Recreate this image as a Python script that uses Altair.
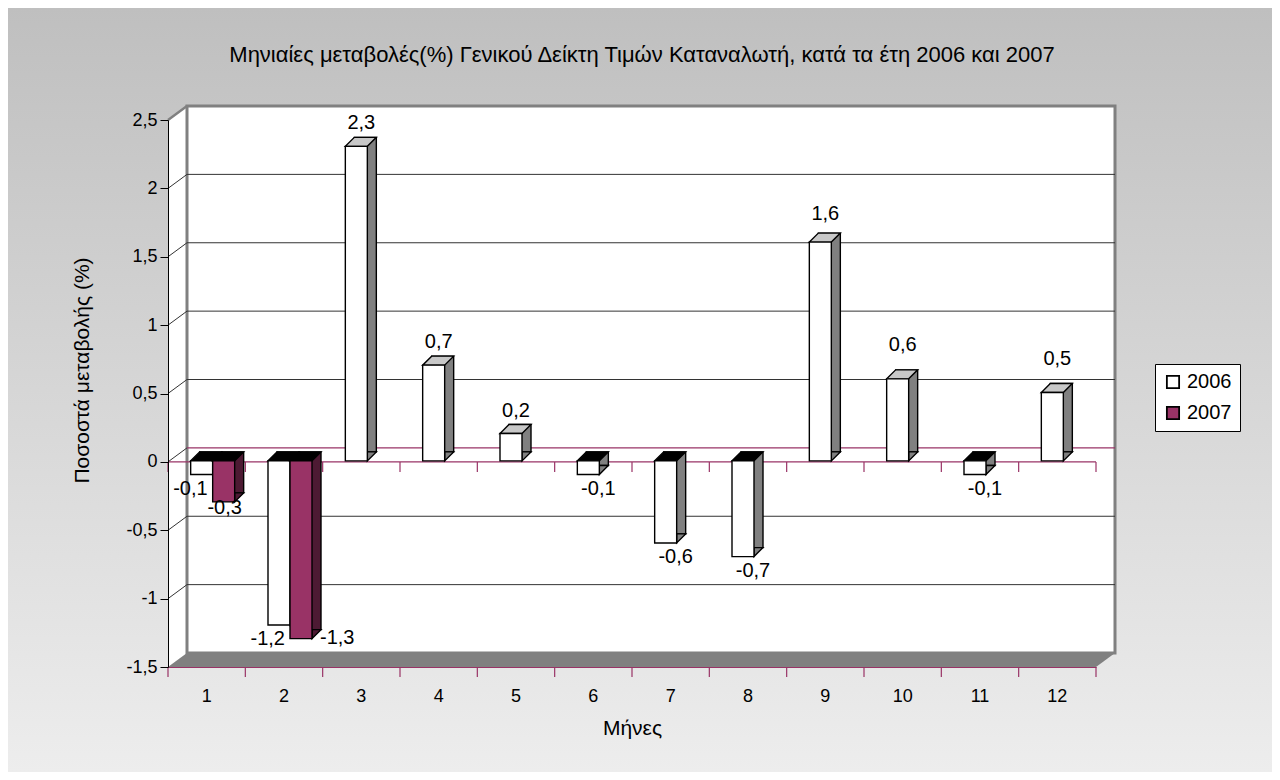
import altair as alt
import pandas as pd

# ---------------- data ----------------
months = list(range(1, 13))
values_2006 = [-0.1, -1.2, 2.3, 0.7, 0.2, -0.1, -0.6, -0.7, 1.6, 0.6, -0.1, 0.5]
months_2007 = [1, 2]
values_2007 = [-0.3, -1.3]
years = ["2006", "2007"]
y_ticks = [-1.5, -1, -0.5, 0, 0.5, 1, 1.5, 2, 2.5]
grid_vals = [-1, -0.5, 0.5, 1, 1.5, 2]
connector_vals = [-1, -0.5, 0, 0.5, 1, 1.5, 2]

title_text = "Μηνιαίες μεταβολές(%) Γενικού Δείκτη Τιμών Καταναλωτή, κατά τα έτη 2006 και 2007"
y_title = "Ποσοστά μεταβολής (%)"
x_title = "Μήνες"

df06 = pd.DataFrame({"month": months, "value": values_2006, "year": years[0]})
df07 = pd.DataFrame({"month": months_2007, "value": values_2007, "year": years[1]})
df_month = pd.DataFrame({"month": months})
one = pd.DataFrame({"a": [0]})

# ---------------- layout ----------------
W, H = 928, 547
DX, DY = 19, -14          # depth of the 3-D box
BW, BD = 22, 9            # bar width and bar depth
HALF = W / 12 / 2
PURPLE = "#993366"
FONT = "Liberation Sans"

xscale = alt.Scale(domain=months, paddingInner=0, paddingOuter=0)
yscale = alt.Scale(domain=[-1.5, 2.5], nice=False, zero=False)

x_axis = alt.Axis(ticks=False, domainColor=PURPLE, domainWidth=1.2, labelAngle=0,
                  labelFontSize=18, labelPadding=20, labelColor="black",
                  titleFontSize=21, titleFontWeight="normal", titlePadding=12,
                  titleColor="black", grid=False, zindex=2)
y_axis = alt.Axis(values=y_ticks, labelExpr="replace(datum.value + '', '.', ',')",
                  grid=False, domainColor="black", tickColor="black", tickSize=8,
                  labelPadding=3, labelFontSize=18, labelColor="black",
                  titleFontSize=21, titleFontWeight="normal", titleColor="black",
                  titleAngle=270, titleX=-86, titleY=250, titleAlign="center",
                  titleBaseline="middle", zindex=2)

def X():
    return alt.X("month:O", scale=xscale, axis=x_axis, title=x_title)

def Y(field="value:Q"):
    return alt.Y(field, scale=yscale, axis=y_axis, title=y_title)

# ---------------- background & box ----------------
gradient = alt.LinearGradient(gradient="linear",
                              stops=[alt.GradientStop(color="#bfbfbf", offset=0),
                                     alt.GradientStop(color="#ededed", offset=1)],
                              x1=0, x2=0, y1=0, y2=1)
bg = alt.Chart(one).mark_rect(fill=gradient).encode(
    x=alt.value(-160), x2=alt.value(W + 176), y=alt.value(-112), y2=alt.value(H + 105))

side_wall = alt.Chart(one).mark_point(
    shape=f"M0 0 L{DX} {DY} L{DX} {H + DY} L0 {H} Z", size=4, filled=True,
    fill="white", strokeWidth=0, opacity=1).encode(x=alt.value(0), y=alt.value(0))

back_wall = alt.Chart(one).mark_rect(fill="white", stroke="#808080", strokeWidth=3).encode(
    x=alt.value(DX), x2=alt.value(W + DX), y=alt.value(DY), y2=alt.value(H + DY))

floor = alt.Chart(one).mark_point(
    shape=f"M0 {H} L{DX} {H + DY} L{W + DX} {H + DY} L{W} {H} Z", size=4, filled=True,
    fill="#808080", strokeWidth=0, opacity=1).encode(x=alt.value(0), y=alt.value(0))

grid = alt.Chart(pd.DataFrame({"g": grid_vals})).mark_rule(
    color="#333333", strokeWidth=1, yOffset=DY).encode(
    y=Y("g:Q"), x=alt.value(DX), x2=alt.value(W + DX))

connectors = alt.Chart(pd.DataFrame({"g": connector_vals})).mark_point(
    shape=f"M0 0 L{DX} {DY}", size=4, filled=False, stroke="#333333", strokeWidth=1,
    opacity=1).encode(x=alt.value(0), y=Y("g:Q"))

top_connector = alt.Chart(pd.DataFrame({"g": [2.5]})).mark_point(
    shape=f"M0 0 L{DX} {DY}", size=4, filled=False, stroke="#808080", strokeWidth=2.5,
    opacity=1).encode(x=alt.value(0), y=Y("g:Q"))

zero_back = alt.Chart(pd.DataFrame({"g": [0]})).mark_rule(
    color=PURPLE, strokeWidth=1.3, yOffset=DY).encode(
    y=Y("g:Q"), x=alt.value(DX), x2=alt.value(W + DX))
zero_front = alt.Chart(pd.DataFrame({"g": [0]})).mark_rule(
    color=PURPLE, strokeWidth=1.3).encode(
    y=Y("g:Q"), x=alt.value(0), x2=alt.value(W))

def tick_layer(level, dx, flt="true"):
    return alt.Chart(df_month.assign(g=level)).transform_filter(flt).mark_point(
        shape="M0 0 L0 10", size=4, filled=False, stroke=PURPLE, strokeWidth=1.2,
        opacity=1, xOffset=dx).encode(x=X(), y=Y("g:Q"))

ticks = [
    tick_layer(0, -HALF), tick_layer(0, HALF, "datum.month == 12"),
    tick_layer(-1.5, -HALF), tick_layer(-1.5, HALF, "datum.month == 12"),
]

# ---------------- 3-D bars ----------------
color = alt.Color("year:N", scale=alt.Scale(domain=years, range=["white", PURPLE]),
                  legend=alt.Legend(orient="none", legendX=987, legendY=244, title=None,
                                    fillColor="white", strokeColor="black", padding=8,
                                    symbolType="square", symbolSize=150,
                                    symbolStrokeColor="black", symbolStrokeWidth=1.8,
                                    labelFontSize=20, labelColor="black", labelOffset=4,
                                    rowPadding=11))

TOP_SHAPE = f"M0 0 L{BW} 0 L{BW + BD} {-BD} L{BD} {-BD} Z"

def bar_layers(d, cx, side):
    base = alt.Chart(d)
    back = base.mark_bar(width=BW, xOffset=cx + BD, yOffset=-BD - 1, y2Offset=-BD - 1,
                         fill=side, stroke="black", strokeWidth=1.4).encode(
        x=X(), y=Y(), y2=alt.datum(0))
    bottom = base.transform_calculate(bot="min(datum.value, 0)").mark_point(
        shape=f"M0 0 L0 {-BD} L{BD} {-BD} Z", size=4, filled=True, fill=side,
        stroke="black", strokeWidth=1.4, opacity=1, xOffset=cx + BW / 2, yOffset=-1).encode(
        x=X(), y=Y("bot:Q"))
    top_pos = base.transform_filter("datum.value > 0").mark_point(
        shape=TOP_SHAPE, size=4, filled=True, fill="#c8c8c8",
        stroke="black", strokeWidth=1.4, opacity=1, xOffset=cx - BW / 2, yOffset=-1).encode(
        x=X(), y=Y())
    top_neg = base.transform_filter("datum.value <= 0").transform_calculate(
        zero="0").mark_point(
        shape=TOP_SHAPE, size=4, filled=True, fill="black",
        stroke="black", strokeWidth=1.4, opacity=1, xOffset=cx - BW / 2, yOffset=-1).encode(
        x=X(), y=Y("zero:Q"))
    front = base.mark_bar(width=BW, xOffset=cx, yOffset=-1, y2Offset=-1,
                          stroke="black", strokeWidth=1.4).encode(
        x=X(), y=Y(), y2=alt.datum(0), color=color)
    return [back, bottom, top_pos, top_neg, front]

bars06 = bar_layers(df06, -5, "#808080")
bars07 = bar_layers(df07, 17, "#4d1a33")

# ---------------- labels ----------------
def labels(d, flt, dx, dy, align="center"):
    return alt.Chart(d).transform_filter(flt).transform_calculate(
        label="replace(datum.value + '', '.', ',')").mark_text(
        fontSize=20, color="black", dx=dx, dy=dy, align=align, baseline="middle").encode(
        x=X(), y=Y(), text="label:N")

lab = [
    labels(df06, "datum.value > 0 && datum.month <= 8", 0, -24),
    labels(df06, "datum.value > 0 && datum.month == 9", 0, -29),
    labels(df06, "datum.value > 0 && datum.month >= 10", 0, -35),
    labels(df06, "datum.value < 0 && datum.month >= 3", 5, 13),
    labels(df06, "datum.month <= 2", 1, 13, "right"),
    labels(df07, "datum.month == 1", 18, 5),
    labels(df07, "datum.month == 2", 36, -2, "left"),
]

title = alt.Chart(one).mark_text(fontSize=22, color="black", align="center",
                                 baseline="middle").encode(
    x=alt.value(474), y=alt.value(-65), text=alt.value(title_text))

chart = alt.layer(
    bg, side_wall, back_wall, floor, grid, connectors, top_connector,
    zero_back, zero_front, *ticks,
    *bars06, *bars07, *lab, title
).properties(
    width=W, height=H,
    autosize=alt.AutoSizeParams(type="none"),
    padding={"left": 160, "top": 112, "right": 176, "bottom": 105},
).configure_view(stroke=None).configure(font=FONT)

chart.save("out.html", embed_options={"renderer": "svg", "actions": False})
